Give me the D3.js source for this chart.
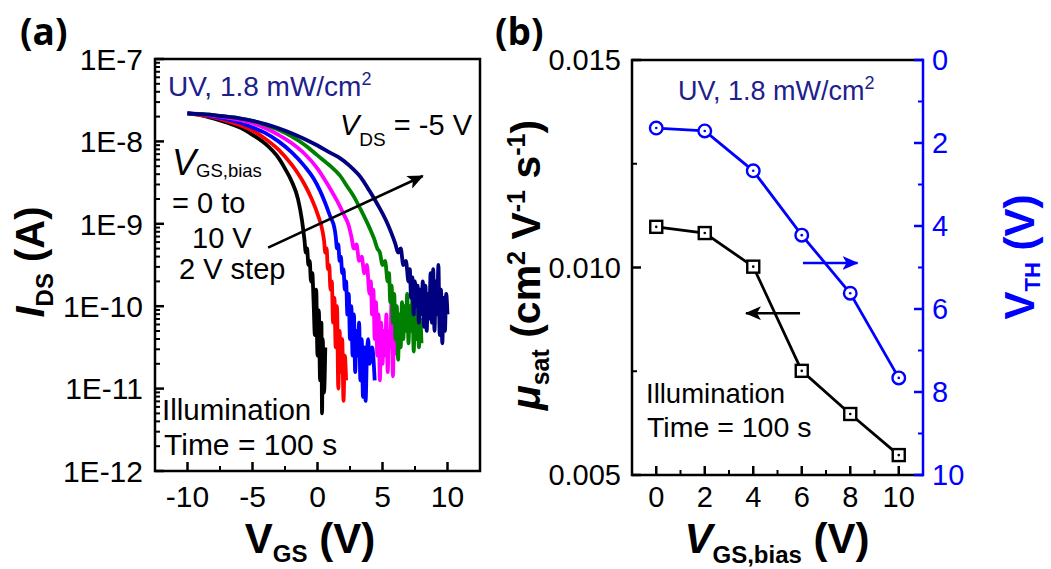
<!DOCTYPE html>
<html><head><meta charset="utf-8">
<script src="https://cdn.jsdelivr.net/npm/d3@7/dist/d3.min.js"></script>
<style>
body{margin:0;background:#fff}
svg{display:block}
text{font-family:"Liberation Sans",Arial,sans-serif;fill:#000}
</style>
</head><body>
<svg id="chart" width="1051" height="569"></svg>
<script>
// ---------- Panel (a): transfer curves, [V_GS (V), log10 I_DS (A)] ----------
const biasLevels = [0, 2, 4, 6, 8, 10];
const curveColors = ["#000000", "#ff0000", "#0000ff", "#ff00ff", "#008000", "#000080"];

const curveBias0 = [[-10,-7.66],[-9,-7.68],[-8,-7.72],[-7,-7.77],[-6,-7.83],[-5,-7.92],[-4,-8.03],[-3,-8.2],[-2.5,-8.33],[-2,-8.48],[-1.5,-8.7],[-1.2,-8.95],[-1.0,-9.2],[-0.9,-9.35],[-0.8,-9.3],[-0.7,-9.5],[-0.6,-9.45],[-0.5,-9.7],[-0.4,-9.6],[-0.3,-9.95],[-0.2,-10.35],[-0.1,-9.8],[0.0,-10.6],[0.1,-10.05],[0.2,-10.9],[0.3,-10.2],[0.35,-11.3],[0.4,-10.4],[0.5,-11.05],[0.6,-10.5]];
const curveBias2 = [[-10,-7.66],[-9,-7.68],[-8,-7.71],[-7,-7.75],[-6,-7.8],[-5,-7.87],[-4,-7.97],[-3,-8.1],[-2,-8.28],[-1.5,-8.39],[-1,-8.52],[-0.5,-8.68],[0,-8.88],[0.4,-9.1],[0.5,-9.2],[0.6,-9.35],[0.7,-9.3],[0.8,-9.55],[0.9,-9.5],[1.0,-9.8],[1.1,-9.7],[1.2,-10.2],[1.3,-9.9],[1.4,-10.5],[1.5,-10.0],[1.6,-11.0],[1.7,-10.3],[1.8,-10.8],[1.9,-10.4],[2.0,-11.15],[2.1,-10.6],[2.2,-10.9]];
const curveBias4 = [[-10,-7.66],[-9,-7.67],[-8,-7.7],[-7,-7.73],[-6,-7.77],[-5,-7.83],[-4,-7.9],[-3,-8.0],[-2,-8.13],[-1,-8.3],[-0.3,-8.45],[0.2,-8.6],[0.6,-8.75],[1.0,-8.92],[1.3,-9.05],[1.4,-9.15],[1.5,-9.3],[1.6,-9.25],[1.7,-9.45],[1.8,-9.4],[1.9,-9.6],[2.0,-9.55],[2.1,-9.8],[2.2,-9.7],[2.3,-10.1],[2.4,-9.85],[2.5,-10.4],[2.6,-10.0],[2.7,-10.6],[2.8,-10.1],[2.9,-10.8],[3.0,-10.3],[3.1,-10.6],[3.2,-10.2],[3.3,-10.9],[3.4,-10.4],[3.5,-11.1],[3.6,-10.5],[3.7,-11.15],[3.8,-10.6],[3.9,-10.4],[4.0,-10.7],[4.2,-10.5],[4.4,-10.9]];
const curveBias6 = [[-10,-7.66],[-9,-7.67],[-8,-7.69],[-7,-7.71],[-6,-7.74],[-5,-7.78],[-4,-7.84],[-3,-7.92],[-2,-8.02],[-1,-8.15],[0,-8.33],[0.5,-8.45],[1.0,-8.58],[1.5,-8.72],[2.0,-8.88],[2.4,-9.02],[2.6,-9.15],[2.8,-9.3],[3.0,-9.25],[3.2,-9.45],[3.4,-9.4],[3.6,-9.6],[3.8,-9.5],[4.0,-9.85],[4.1,-9.7],[4.2,-10.1],[4.3,-9.8],[4.4,-10.4],[4.5,-9.95],[4.6,-10.6],[4.7,-10.1],[4.8,-10.9],[4.9,-10.2],[5.0,-10.7],[5.1,-10.3],[5.2,-10.6],[5.3,-10.1],[5.4,-10.8],[5.5,-10.3],[5.6,-10.5],[5.7,-9.9],[5.8,-10.85],[5.9,-10.2],[6.0,-10.6]];
const curveBias8 = [[-10,-7.66],[-9,-7.67],[-8,-7.68],[-7,-7.7],[-6,-7.72],[-5,-7.75],[-4,-7.8],[-3,-7.86],[-2,-7.94],[-1,-8.04],[0,-8.17],[1,-8.3],[1.7,-8.41],[2.3,-8.55],[2.8,-8.67],[3.3,-8.82],[3.8,-8.98],[4.2,-9.12],[4.4,-9.2],[4.6,-9.3],[4.8,-9.35],[5.0,-9.5],[5.2,-9.45],[5.4,-9.7],[5.5,-9.6],[5.6,-9.95],[5.7,-9.75],[5.8,-10.2],[5.9,-9.85],[6.0,-10.4],[6.1,-10.0],[6.2,-10.65],[6.3,-10.1],[6.4,-10.5],[6.5,-9.95],[6.6,-10.4],[6.7,-10.0],[6.8,-10.3],[6.9,-9.85],[7.0,-10.45],[7.1,-10.0],[7.2,-10.3],[7.3,-9.9],[7.4,-10.55],[7.5,-10.1],[7.6,-10.4],[7.7,-9.95],[7.8,-10.5],[7.9,-10.15],[8.0,-10.45]];
const curveBias10 = [[-10,-7.66],[-9,-7.67],[-8,-7.68],[-7,-7.7],[-6,-7.72],[-5,-7.75],[-4,-7.79],[-3,-7.84],[-2,-7.9],[-1,-7.97],[0,-8.05],[1,-8.14],[1.7,-8.2],[2.5,-8.3],[3.3,-8.43],[4.0,-8.6],[4.6,-8.76],[5.3,-8.97],[5.7,-9.12],[6.0,-9.25],[6.2,-9.35],[6.4,-9.3],[6.6,-9.5],[6.8,-9.45],[7.0,-9.7],[7.1,-9.55],[7.2,-9.9],[7.3,-9.65],[7.4,-10.1],[7.5,-9.7],[7.6,-10.0],[7.7,-9.75],[7.8,-10.2],[7.9,-9.8],[8.0,-10.1],[8.1,-9.7],[8.2,-10.25],[8.3,-9.75],[8.4,-10.3],[8.5,-9.85],[8.6,-10.15],[8.7,-9.6],[8.8,-10.2],[8.9,-9.55],[9.0,-10.3],[9.1,-9.7],[9.2,-10.1],[9.3,-9.5],[9.4,-10.35],[9.5,-9.8],[9.6,-10.45],[9.7,-9.9],[9.8,-10.3],[9.9,-9.85],[10.0,-10.1]];
const transferCurves = [curveBias0, curveBias2, curveBias4, curveBias6, curveBias8, curveBias10];

const yTickValsA = [1e-12, 1e-11, 1e-10, 1e-9, 1e-8, 1e-7];
const yTickLabelsA = ["1E-12", "1E-11", "1E-10", "1E-9", "1E-8", "1E-7"];
const xMajorA = [-10, -5, 0, 5, 10];
const xMinorA = [-7.5, -2.5, 2.5, 7.5];

// ---------- Panel (b): mobility and threshold voltage vs bias ----------
const biasV = [0, 2, 4, 6, 8, 10];
const muSat = [0.01098, 0.01083, 0.01002, 0.00751, 0.00647, 0.00548];
const vTh = [1.64, 1.71, 2.67, 4.22, 5.62, 7.66];
const xMajorB = [0, 2, 4, 6, 8, 10];
const xMinorB = [1, 3, 5, 7, 9];
const yLeftMajorB = [0.005, 0.010, 0.015];
const yLeftMinorB = [0.0075, 0.0125];
const yRightMajorB = [0, 2, 4, 6, 8, 10];
const yRightMinorB = [1, 3, 5, 7, 9];

const BLUE = "#0000ff";
const NOTE_BLUE = "#20208c";

const svg = d3.select("#chart");

const defs = svg.append("defs");
function arrowHead(id, color) {
  defs.append("marker").attr("id", id)
    .attr("markerUnits", "userSpaceOnUse")
    .attr("markerWidth", 18).attr("markerHeight", 14)
    .attr("refX", 15).attr("refY", 7).attr("orient", "auto")
    .append("path").attr("d", "M0,0 L16,7 L0,14 L4,7 Z").attr("fill", color);
}
arrowHead("headBlack", "#000");
arrowHead("headBlue", BLUE);

// rich text helper: parts = [{t, size, dy, italic}]
function rich(parent, x, y, parts, opt = {}) {
  const t = parent.append("text").attr("x", x).attr("y", y)
    .attr("font-size", opt.size || 28)
    .attr("text-anchor", opt.anchor || "start");
  if (opt.weight) t.attr("font-weight", opt.weight);
  if (opt.fill) t.style("fill", opt.fill);
  if (opt.transform) t.attr("transform", opt.transform);
  parts.forEach(p => {
    const s = t.append("tspan").text(p.t);
    if (p.size) s.attr("font-size", p.size);
    if (p.dy) s.attr("dy", p.dy);
    if (p.italic) s.attr("font-style", "italic");
  });
  return t;
}

// ================= Panel (a) =================
const A = {l: 155, r: 480, t: 59, b: 471};
const xA = d3.scaleLinear().domain([-12.5, 12.5]).range([A.l, A.r]);
const yA = d3.scaleLog().domain([1e-12, 1e-7]).range([A.b, A.t]);
const gA = svg.append("g");

defs.append("clipPath").attr("id", "clipA").append("rect")
  .attr("x", A.l).attr("y", A.t).attr("width", A.r - A.l).attr("height", A.b - A.t);

const lineA = d3.line()
  .x(d => xA(d[0]))
  .y(d => yA(Math.pow(10, d[1])))
  .curve(d3.curveMonotoneX);

gA.append("g").attr("clip-path", "url(#clipA)")
  .selectAll("path").data(transferCurves).join("path")
  .attr("d", lineA)
  .attr("fill", "none")
  .attr("stroke", (d, i) => curveColors[i])
  .attr("stroke-width", 3.8)
  .attr("stroke-linejoin", "round");

// frame
gA.append("rect").attr("x", A.l).attr("y", A.t)
  .attr("width", A.r - A.l).attr("height", A.b - A.t)
  .attr("fill", "none").attr("stroke", "#000").attr("stroke-width", 2.5);

// log minor ticks on the left axis
const yMinorA = [];
for (let e = -12; e < -7; e++) for (let k = 2; k <= 9; k++) yMinorA.push(k * Math.pow(10, e));
gA.selectAll(".ymin").data(yMinorA).join("line")
  .attr("x1", A.l).attr("x2", A.l + 5)
  .attr("y1", d => yA(d)).attr("y2", d => yA(d))
  .attr("stroke", "#000").attr("stroke-width", 2);
gA.selectAll(".ymaj").data(yTickValsA).join("line")
  .attr("x1", A.l).attr("x2", A.l + 9)
  .attr("y1", d => yA(d)).attr("y2", d => yA(d))
  .attr("stroke", "#000").attr("stroke-width", 2.5);
gA.selectAll(".xmaj").data(xMajorA).join("line")
  .attr("x1", d => xA(d)).attr("x2", d => xA(d))
  .attr("y1", A.b).attr("y2", A.b - 9)
  .attr("stroke", "#000").attr("stroke-width", 2.5);
gA.selectAll(".xmin").data(xMinorA).join("line")
  .attr("x1", d => xA(d)).attr("x2", d => xA(d))
  .attr("y1", A.b).attr("y2", A.b - 5)
  .attr("stroke", "#000").attr("stroke-width", 2);

// tick labels
gA.selectAll(".ylab").data(yTickValsA).join("text")
  .attr("x", A.l - 12).attr("y", d => yA(d)).attr("dy", "0.36em")
  .attr("text-anchor", "end").attr("font-size", 30)
  .text((d, i) => yTickLabelsA[i]);
gA.selectAll(".xlab").data(xMajorA).join("text")
  .attr("x", d => xA(d)).attr("y", 507)
  .attr("text-anchor", "middle").attr("font-size", 30)
  .text(d => d);

// axis titles
rich(gA, 310, 553, [{t: "V"}, {t: "GS", size: 24, dy: 9}, {t: " (V)", dy: -9}],
  {size: 42, weight: "bold", anchor: "middle"});
rich(gA, 0, 0, [{t: "I", italic: true}, {t: "DS", size: 24, dy: 9}, {t: " (A)", dy: -9}],
  {size: 40, weight: "bold", anchor: "middle", transform: "translate(44,262) rotate(-90)"});

// panel letter
svg.append("text").attr("x", 20).attr("y", 45).attr("font-size", 37)
  .attr("font-weight", "bold").style("font-family", "'Open Sans',sans-serif").text("(a)");

// annotations
rich(gA, 168, 96, [{t: "UV, 1.8 mW/cm"}, {t: "2", size: 18, dy: -11}], {size: 28, fill: NOTE_BLUE});
rich(gA, 340, 135, [{t: "V", italic: true}, {t: "DS", size: 19, dy: 11}, {t: " = -5 V", dy: -11}], {size: 29});
rich(gA, 172, 175, [{t: "V", italic: true, size: 36}, {t: "GS,bias", size: 18.5, dy: 2}], {size: 29});
rich(gA, 172, 213, [{t: "= 0 to"}], {size: 29});
rich(gA, 192, 248, [{t: "10 V"}], {size: 29});
rich(gA, 179, 279, [{t: "2 V step"}], {size: 29});
rich(gA, 162, 420, [{t: "Illumination"}], {size: 29.5});
rich(gA, 164, 455, [{t: "Time = 100 s"}], {size: 30});

// bias-direction arrow
gA.append("line")
  .attr("x1", xA(-3.8)).attr("y1", yA(Math.pow(10, -9.29)))
  .attr("x2", xA(8.1)).attr("y2", yA(Math.pow(10, -8.42)))
  .attr("stroke", "#000").attr("stroke-width", 2.5)
  .attr("marker-end", "url(#headBlack)");

// ================= Panel (b) =================
const B = {l: 632, r: 923, t: 60, b: 475};
const xB = d3.scaleLinear().domain([-1, 11]).range([B.l, B.r]);
const yMu = d3.scaleLinear().domain([0.005, 0.015]).range([B.b, B.t]);
const yVt = d3.scaleLinear().domain([0, 10]).range([B.t, B.b]);
const gB = svg.append("g");

// frame: black on three sides, blue right axis
gB.append("path")
  .attr("d", `M${B.r},${B.t} H${B.l} V${B.b} H${B.r}`)
  .attr("fill", "none").attr("stroke", "#000").attr("stroke-width", 2.5);
gB.append("line").attr("x1", B.r).attr("x2", B.r).attr("y1", B.t - 1.25).attr("y2", B.b + 1.25)
  .attr("stroke", BLUE).attr("stroke-width", 2.5);

gB.selectAll(".bxmaj").data(xMajorB).join("line")
  .attr("x1", d => xB(d)).attr("x2", d => xB(d)).attr("y1", B.b).attr("y2", B.b - 9)
  .attr("stroke", "#000").attr("stroke-width", 2.5);
gB.selectAll(".bxmin").data(xMinorB).join("line")
  .attr("x1", d => xB(d)).attr("x2", d => xB(d)).attr("y1", B.b).attr("y2", B.b - 5)
  .attr("stroke", "#000").attr("stroke-width", 2);
gB.selectAll(".blmaj").data(yLeftMajorB).join("line")
  .attr("x1", B.l).attr("x2", B.l + 9).attr("y1", d => yMu(d)).attr("y2", d => yMu(d))
  .attr("stroke", "#000").attr("stroke-width", 2.5);
gB.selectAll(".blmin").data(yLeftMinorB).join("line")
  .attr("x1", B.l).attr("x2", B.l + 5).attr("y1", d => yMu(d)).attr("y2", d => yMu(d))
  .attr("stroke", "#000").attr("stroke-width", 2);
gB.selectAll(".brmaj").data(yRightMajorB).join("line")
  .attr("x1", B.r).attr("x2", B.r - 9).attr("y1", d => yVt(d)).attr("y2", d => yVt(d))
  .attr("stroke", BLUE).attr("stroke-width", 2.5);
gB.selectAll(".brmin").data(yRightMinorB).join("line")
  .attr("x1", B.r).attr("x2", B.r - 5).attr("y1", d => yVt(d)).attr("y2", d => yVt(d))
  .attr("stroke", BLUE).attr("stroke-width", 2);

// tick labels
gB.selectAll(".bxl").data(xMajorB).join("text")
  .attr("x", d => xB(d)).attr("y", 507).attr("text-anchor", "middle")
  .attr("font-size", 29).text(d => d);
gB.selectAll(".byl").data(yLeftMajorB).join("text")
  .attr("x", B.l - 11).attr("y", d => yMu(d)).attr("dy", "0.36em")
  .attr("text-anchor", "end").attr("font-size", 29).text(d => d3.format(".3f")(d));
gB.selectAll(".byr").data(yRightMajorB).join("text")
  .attr("x", B.r + 9).attr("y", d => yVt(d)).attr("dy", "0.36em")
  .attr("text-anchor", "start").attr("font-size", 29).style("fill", BLUE).text(d => d);

// series lines and markers
const muPts = biasV.map((v, i) => [v, muSat[i]]);
const vtPts = biasV.map((v, i) => [v, vTh[i]]);
gB.append("path").datum(muPts)
  .attr("d", d3.line().x(d => xB(d[0])).y(d => yMu(d[1])))
  .attr("fill", "none").attr("stroke", "#000").attr("stroke-width", 2.8);
gB.append("path").datum(vtPts)
  .attr("d", d3.line().x(d => xB(d[0])).y(d => yVt(d[1])))
  .attr("fill", "none").attr("stroke", BLUE).attr("stroke-width", 2.8);

gB.selectAll(".sq").data(muPts).join("rect")
  .attr("x", d => xB(d[0]) - 6).attr("y", d => yMu(d[1]) - 6)
  .attr("width", 12).attr("height", 12)
  .attr("fill", "#fff").attr("stroke", "#000").attr("stroke-width", 2.4);
gB.selectAll(".sqd").data(muPts).join("circle")
  .attr("cx", d => xB(d[0])).attr("cy", d => yMu(d[1])).attr("r", 1.3).attr("fill", "#000");
gB.selectAll(".ci").data(vtPts).join("circle")
  .attr("cx", d => xB(d[0])).attr("cy", d => yVt(d[1])).attr("r", 6.3)
  .attr("fill", "#fff").attr("stroke", BLUE).attr("stroke-width", 2.4);
gB.selectAll(".cid").data(vtPts).join("circle")
  .attr("cx", d => xB(d[0])).attr("cy", d => yVt(d[1])).attr("r", 1.3).attr("fill", BLUE);

// axis-pointing arrows
gB.append("line")
  .attr("x1", xB(5.93)).attr("y1", yMu(0.0089))
  .attr("x2", xB(3.7)).attr("y2", yMu(0.0089))
  .attr("stroke", "#000").attr("stroke-width", 2.5).attr("marker-end", "url(#headBlack)");
gB.append("line")
  .attr("x1", xB(6.05)).attr("y1", yVt(4.89))
  .attr("x2", xB(8.3)).attr("y2", yVt(4.89))
  .attr("stroke", BLUE).attr("stroke-width", 2.5).attr("marker-end", "url(#headBlue)");

// annotations
rich(gB, 678, 100, [{t: "UV, 1.8 mW/cm"}, {t: "2", size: 18, dy: -11}], {size: 27, fill: NOTE_BLUE});
rich(gB, 646, 403, [{t: "Illumination"}], {size: 27.5});
rich(gB, 647, 437, [{t: "Time = 100 s"}], {size: 28.5});

// axis titles
rich(gB, 777, 553, [{t: "V", italic: true}, {t: "GS,bias", size: 24, dy: 10}, {t: " (V)", dy: -10}],
  {size: 42, weight: "bold", anchor: "middle"});
rich(gB, 0, 0, [
  {t: "\u03bc", italic: true}, {t: "sat", size: 25, dy: 9},
  {t: " (cm", dy: -9}, {t: "2", size: 25, dy: -15},
  {t: " V", dy: 15}, {t: "-1", size: 25, dy: -15},
  {t: " s", dy: 15}, {t: "-1", size: 25, dy: -15},
  {t: ")", dy: 15}
], {size: 41, weight: "bold", anchor: "middle", transform: "translate(540,265) rotate(-90)"});
rich(gB, 0, 0, [{t: "V"}, {t: "TH", size: 22, dy: 6}, {t: " (V)", dy: -6}],
  {size: 42, weight: "bold", anchor: "middle", fill: BLUE, transform: "translate(1034,257) rotate(-90)"});

svg.append("text").attr("x", 495).attr("y", 45).attr("font-size", 37)
  .attr("font-weight", "bold").style("font-family", "'Open Sans',sans-serif").text("(b)");
</script>
</body></html>
